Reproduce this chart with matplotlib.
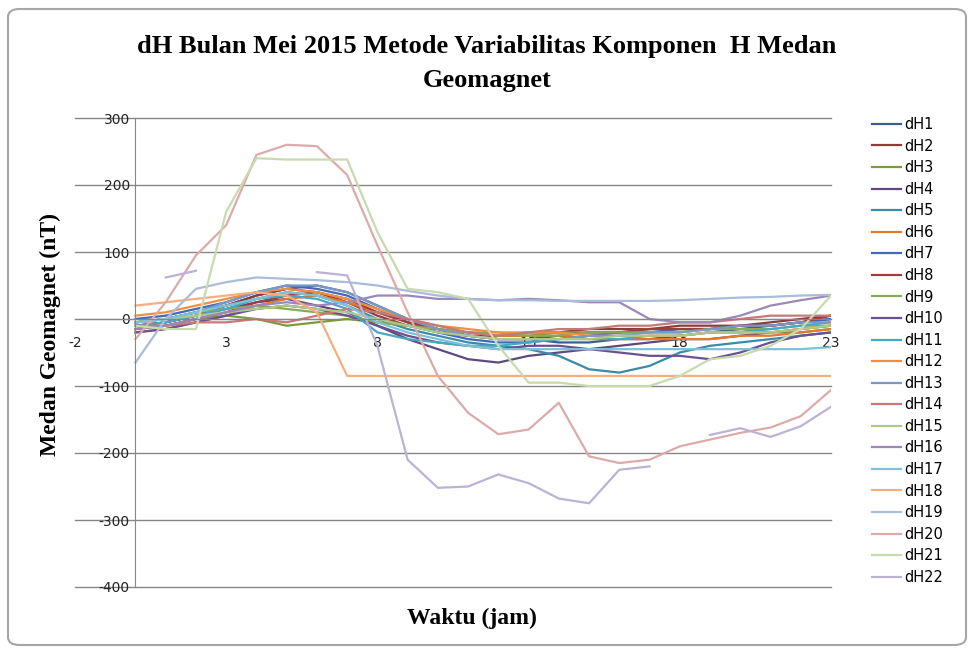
import numpy as np
import matplotlib
matplotlib.use("Agg")
import matplotlib.pyplot as plt
from matplotlib.patches import FancyBboxPatch

plt.rcParams['axes.unicode_minus'] = False

nan = np.nan

# hours (x axis)
hours = list(range(24))

# dH per day (nT)
dH1 = [-5, 0, 10, 20, 35, 45, 50, 40, 20, 0, -15, -25, -30, -30, -35, -35, -30, -30, -25, -20, -15, -10, -5, 0]
dH2 = [-10, -5, 5, 20, 35, 45, 40, 25, 5, -10, -20, -25, -25, -20, -20, -15, -15, -15, -10, -10, -10, -5, 0, 5]
dH3 = [-15, -10, 0, 5, 0, -10, -5, 0, -5, -10, -15, -20, -25, -25, -20, -20, -20, -15, -15, -15, -15, -20, -20, -15]
dH4 = [-10, -5, 5, 15, 25, 30, 20, 10, -10, -30, -45, -60, -65, -55, -50, -45, -40, -35, -30, -30, -25, -20, -15, -10]
dH5 = [-5, 0, 10, 20, 30, 40, 35, 20, 0, -15, -25, -35, -40, -45, -55, -75, -80, -70, -50, -40, -35, -30, -25, -20]
dH6 = [-20, -15, -5, 5, 20, 30, 35, 25, 10, -5, -15, -20, -25, -25, -25, -30, -30, -30, -30, -30, -25, -25, -20, -15]
dH7 = [0, 5, 15, 25, 40, 50, 45, 35, 15, -5, -20, -30, -35, -35, -30, -25, -20, -20, -15, -15, -10, -10, -5, 0]
dH8 = [-15, -10, 0, 10, 25, 35, 40, 30, 10, -5, -15, -25, -30, -30, -25, -20, -20, -15, -15, -15, -10, -10, -5, 5]
dH9 = [-5, 0, 10, 15, 20, 15, 10, 5, -5, -10, -15, -20, -20, -25, -25, -20, -20, -20, -20, -15, -15, -15, -10, -10]
dH10 = [-20, -15, -5, 5, 15, 20, 15, 5, -10, -25, -35, -40, -45, -40, -40, -45, -50, -55, -55, -60, -50, -35, -25, -20]
dH11 = [-10, -5, 5, 15, 30, 35, 30, 15, -20, -30, -35, -40, -40, -35, -30, -30, -30, -25, -25, -20, -20, -15, -10, -5]
dH12 = [5, 10, 20, 30, 40, 45, 40, 30, 15, 0, -10, -15, -20, -20, -20, -25, -25, -25, -25, -20, -20, -20, -15, -10]
dH13 = [-5, 0, 10, 25, 40, 50, 50, 40, 20, 0, -15, -25, -30, -30, -30, -25, -25, -20, -20, -15, -10, -10, -5, -5]
dH14 = [-10, -10, -5, -5, 0, -5, 5, 15, 10, 0, -10, -20, -25, -20, -15, -15, -10, -10, -5, -5, 0, 5, 5, 5]
dH15 = [-5, 0, 5, 10, 15, 20, 15, 10, 0, -10, -20, -25, -30, -30, -30, -30, -25, -25, -25, -20, -20, -20, -15, -10]
dH16 = [-15, -10, 0, 10, 20, 25, 20, 25, 35, 35, 30, 30, 28, 30, 28, 25, 25, 0, -5, -5, 5, 20, 28, 35]
dH17 = [-5, 0, 10, 20, 30, 40, 35, 20, -5, -20, -30, -40, -45, -45, -45, -45, -45, -45, -45, -45, -45, -45, -45, -42]
dH18 = [20, 25, 30, 35, 40, 35, 10, -85, -85, -85, -85, -85, -85, -85, -85, -85, -85, -85, -85, -85, -85, -85, -85, -85]
dH19 = [-65, 0, 45, 55, 62, 60, 58, 55, 50, 42, 35, 30, 28, 28, 27, 27, 27, 27, 28, 30, 32, 33, 35, 36]
dH20 = [-30, 25, 95, 140, 245, 260, 258, 215, 110, 10, -85, -140, -172, -165, -125, -205, -215, -210, -190, -180, -170, -162, -145, -106]
dH21 = [-10, -15, -15, 160, 240, 238, 238, 238, 130, 45, 40, 30, -40, -95, -95, -100, -100, -100, -85, -60, -55, -40, -15, 35]
dH22 = [nan, 62, 72, nan, nan, nan, 70, 65, -40, -210, -252, -250, -232, -245, -268, -275, -225, -220, nan, -173, -163, -176, -160, -131]

series = [dH1, dH2, dH3, dH4, dH5, dH6, dH7, dH8, dH9, dH10, dH11,
          dH12, dH13, dH14, dH15, dH16, dH17, dH18, dH19, dH20, dH21, dH22]
labels = ['dH%d' % (i + 1) for i in range(len(series))]
colors = ['#3C5F8A', '#8E3A38', '#7E9A3E', '#5E4A7E', '#3A8CA6', '#E27A2E',
          '#4169B8', '#A03C3A', '#8AAA56', '#6A5290', '#48A8C4', '#F0903E',
          '#7A98C8', '#C87878', '#AEC88A', '#9A88B8', '#7CC2D8', '#F6AE80',
          '#A9BCDA', '#DDAAAA', '#C8DAAE', '#BCB2D4']

fig = plt.figure(figsize=(9.74, 6.54), dpi=100, facecolor='white')

# chart frame
frame = FancyBboxPatch((8 / 974, 9 / 654), 958 / 974, 636 / 654,
                       boxstyle='round,pad=0,rounding_size=0.012',
                       transform=fig.transFigure, facecolor='none',
                       edgecolor='#A6A6A6', linewidth=1.5, zorder=-1)
fig.patches.append(frame)

ax = fig.add_axes([75 / 974, 1 - 587 / 654, 756 / 974, 469 / 654])
ax.set_facecolor('none')

for vals, lab, col in zip(series, labels, colors):
    ax.plot(hours, vals, color=col, lw=1.6, label=lab)

ax.set_xlim(-2, 23)
ax.set_ylim(-400, 300)
ax.set_yticks(range(-400, 301, 100))
ax.set_xticks([-2, 3, 8, 13, 18, 23])

ax.spines['top'].set_visible(False)
ax.spines['right'].set_visible(False)
ax.spines['left'].set_position(('data', 0))
ax.spines['bottom'].set_position(('data', 0))
for s in ['left', 'bottom']:
    ax.spines[s].set_color('#868686')
ax.yaxis.grid(True, color='#868686', lw=1)
for gl in ax.get_ygridlines():
    gl.set_clip_on(False)
ax.set_axisbelow(True)
ax.tick_params(axis='y', length=0, pad=4, labelsize=10, labelcolor='#222222')
ax.tick_params(axis='x', length=0, pad=12, labelsize=10, labelcolor='#222222')

fig.text(487 / 974, 1 - 47 / 654,
         'dH Bulan Mei 2015 Metode Variabilitas Komponen  H Medan',
         ha='center', va='center', family='Liberation Serif',
         weight='bold', fontsize=19)
fig.text(487 / 974, 1 - 80 / 654, 'Geomagnet', ha='center', va='center',
         family='Liberation Serif', weight='bold', fontsize=19)
fig.text(50 / 974, 1 - 335 / 654, 'Medan Geomagnet (nT)', rotation=90,
         ha='center', va='center', family='Liberation Serif',
         weight='bold', fontsize=17)
fig.text(472 / 974, 1 - 618 / 654, 'Waktu (jam)', ha='center', va='center',
         family='Liberation Serif', weight='bold', fontsize=17)

ax.legend(loc='upper left', bbox_to_anchor=(872 / 974, 1 - 117 / 654),
          bbox_transform=fig.transFigure, frameon=False, fontsize=10.5,
          handlelength=2.0, handletextpad=0.2, labelspacing=0.45,
          borderpad=0, borderaxespad=0)

fig.savefig('out.png', dpi=100)
